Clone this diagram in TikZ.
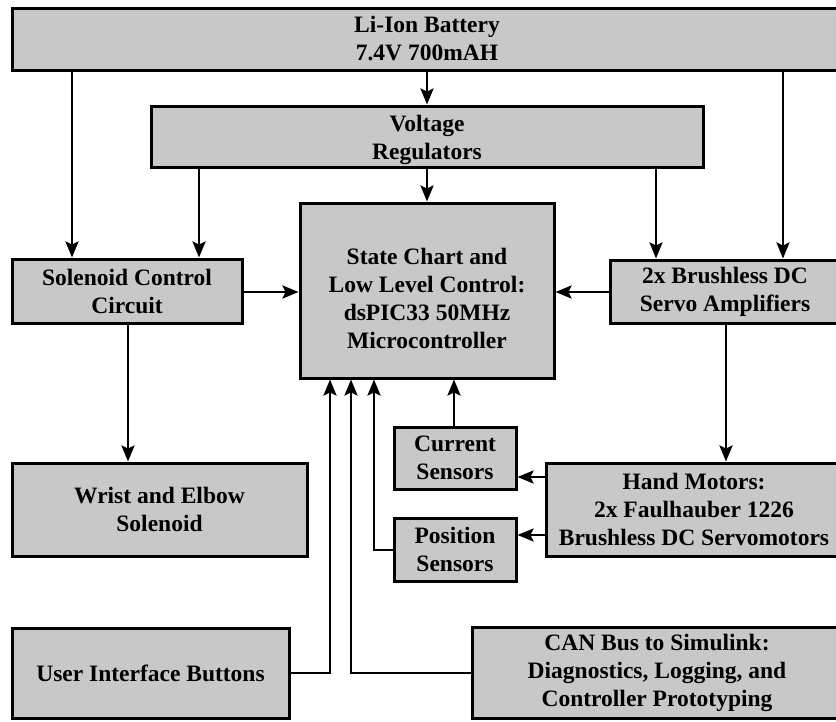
\documentclass[tikz,border=0pt]{standalone}
\usepackage{fontspec}
\setmainfont{Liberation Serif}
\usetikzlibrary{arrows.meta}
\definecolor{boxgray}{RGB}{200,200,200}
\tikzset{
  txt/.style={inner sep=0pt, align=center,
    font=\bfseries\fontsize{23.5}{28}\selectfont},
  blk/.style={txt, draw=black, fill=boxgray, line width=3pt, rectangle},
  arr/.style={line width=2.5pt, -{Stealth[length=16pt,width=13pt,inset=3pt]}},
}
\begin{document}
\begin{tikzpicture}[x=1pt,y=-1pt]
\useasboundingbox (0,0) rectangle (836,721);
\clip (0,0) rectangle (836,721);
\fill[white] (0,0) rectangle (836,721);

% blocks
\node[blk, minimum width=830pt, minimum height=62pt] (bat) at (427,39) {Li-Ion Battery\\7.4V 700mAH};
\node[blk, minimum width=552pt, minimum height=61pt] (reg) at (427,136.5) {};
\node[txt] (regtxt) at ([yshift=-3pt]reg.center) {Voltage\\Regulators};
\node[blk, minimum width=254pt, minimum height=175pt] (ctrl) at (427,290.5) {};
\node[txt] (ctrltxt) at ([yshift=-8pt]ctrl.center) {State Chart and\\Low Level Control:\\dsPIC33 50MHz\\Microcontroller};
\node[blk, minimum width=230pt, minimum height=64pt] (sol) at (127,291) {Solenoid Control\\Circuit};
\node[blk, minimum width=230pt, minimum height=63pt] (amp) at (725,291.5) {2x Brushless DC\\Servo Amplifiers};
\node[blk, minimum width=295pt, minimum height=93pt] (wrist) at (159.5,509.5) {Wrist and Elbow\\Solenoid};
\node[blk, minimum width=122pt, minimum height=62pt] (cur) at (455,458) {Current\\Sensors};
\node[blk, minimum width=122pt, minimum height=63pt] (pos) at (455,549.5) {Position\\Sensors};
\node[blk, minimum width=296pt, minimum height=93pt] (motor) at (694,509.5) {Hand Motors:\\2x Faulhauber 1226\\Brushless DC Servomotors};
\node[blk, minimum width=277pt, minimum height=90pt] (ui) at (150.5,673) {User Interface Buttons};
\node[blk, minimum width=370pt, minimum height=91pt] (can) at (657,672.5) {CAN Bus to Simulink:\\Diagnostics, Logging, and\\Controller Prototyping};

% connector columns and rows
\coordinate (c72) at (72,0);
\coordinate (c199) at (199,0);
\coordinate (c656) at (656,0);
\coordinate (c783) at (783,0);
\coordinate (c128) at (128,0);
\coordinate (c726) at (726,0);
\coordinate (c330) at (330,0);
\coordinate (c351) at (351,0);
\coordinate (c374) at (374,0);
\coordinate (c454) at (454,0);
\coordinate (r292) at (0,292);
\coordinate (r477) at (0,477);
\coordinate (r535) at (0,535);
\coordinate (r550) at (0,550);
\coordinate (r673) at (0,673);

% power distribution
\draw[arr] (bat.south -| c72) -- (sol.north -| c72);
\draw[arr] (bat.south) -- (reg.north);
\draw[arr] (bat.south -| c783) -- (amp.north -| c783);
\draw[arr] (reg.south -| c199) -- (sol.north -| c199);
\draw[arr] (reg.south) -- (ctrl.north);
\draw[arr] (reg.south -| c656) -- (amp.north -| c656);

% control signals
\draw[arr] (sol.east |- r292) -- (ctrl.west |- r292);
\draw[arr] (amp.west |- r292) -- (ctrl.east |- r292);
\draw[arr] (sol.south -| c128) -- (wrist.north -| c128);
\draw[arr] (amp.south -| c726) -- (motor.north -| c726);

% sensing
\draw[arr] (motor.west |- r477) -- (cur.east |- r477);
\draw[arr] (motor.west |- r535) -- (pos.east |- r535);
\draw[arr] (cur.north -| c454) -- (ctrl.south -| c454);
\draw[arr] (pos.west |- r550) -| (ctrl.south -| c374);

% user interface and CAN bus
\draw[arr] (ui.east |- r673) -| (ctrl.south -| c330);
\draw[arr] (can.west |- r673) -| (ctrl.south -| c351);
\end{tikzpicture}
\end{document}
